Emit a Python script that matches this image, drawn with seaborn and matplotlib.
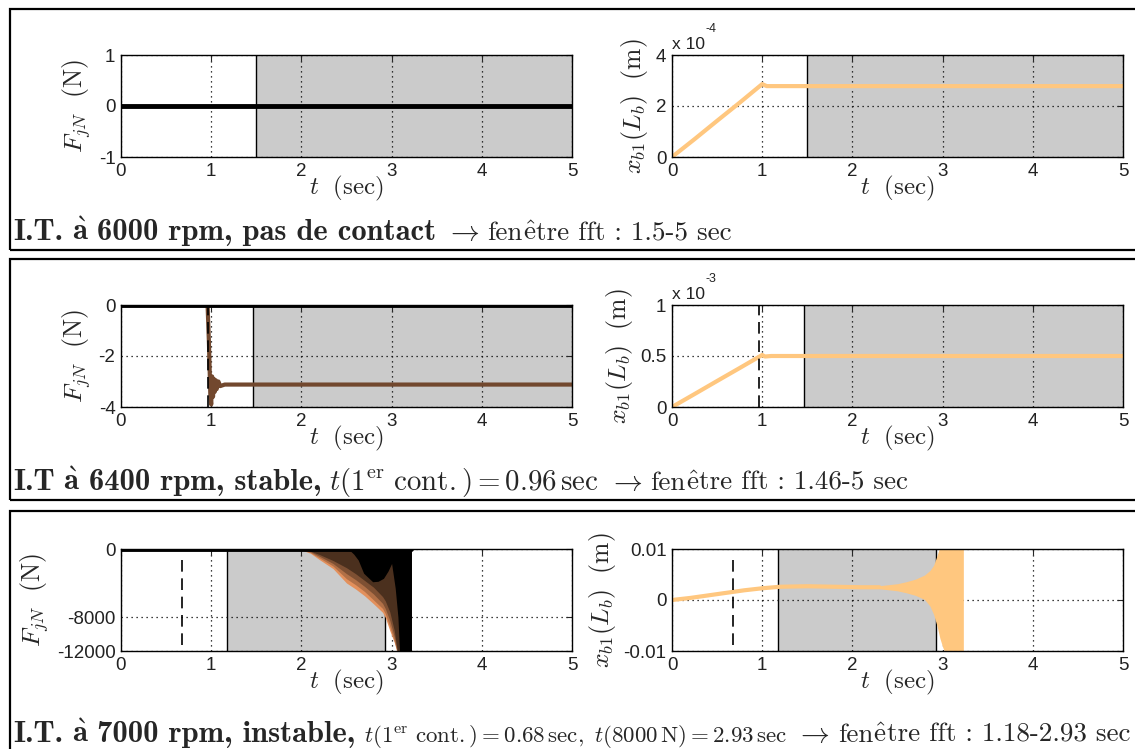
import matplotlib
matplotlib.use("Agg")
import matplotlib.pyplot as plt
import seaborn as sns
from matplotlib.patches import Rectangle
from matplotlib.ticker import FixedLocator, FixedFormatter
from matplotlib import cm

W, H = 1135, 749

# ---- data ----------------------------------------------------------------
# I.T. 6000 rpm (no contact)
t_f1 = [0.0, 5.0]
f1 = [0.0, 0.0]
t_x1 = [0.0, 0.25, 0.5, 0.75, 1.0, 1.05, 1.5, 5.0]
x1 = [0.0, 0.7e-4, 1.42e-4, 2.13e-4, 2.86e-4, 2.78e-4, 2.78e-4, 2.78e-4]
fft1 = (1.5, 5.0)

# I.T 6400 rpm (stable)
t_f2 = [0.0, 0.96, 0.975, 0.99, 1.0, 1.01, 1.02, 1.03, 1.04, 1.05, 1.06, 1.08, 1.1, 1.15, 5.0]
f2 = [0.0, 0.0, -1.5, -3.5, -3.9, -2.8, -3.6, -2.9, -3.4, -2.95, -3.3, -3.0, -3.18, -3.12, -3.12]
t_x2 = [0.0, 0.25, 0.5, 0.75, 1.0, 1.03, 1.1, 5.0]
x2 = [0.0, 1.27e-4, 2.55e-4, 3.82e-4, 5.1e-4, 4.95e-4, 5.0e-4, 5.0e-4]
fft2 = (1.46, 5.0)
contact2 = 0.96

# I.T. 7000 rpm (unstable) - contact force envelopes, lightest to darkest
t_f3 = [1.97, 2.1, 2.2, 2.35, 2.5, 2.6, 2.7, 2.8, 2.9, 2.93, 2.98, 3.03, 3.07, 3.22]
f3_a = [0, -500, -1250, -2300, -4000, -4700, -5500, -6450, -7450, -8050, -9600, -11000, -12500, -12500]
f3_b = [0, -420, -1050, -2000, -3500, -4200, -5000, -6000, -7000, -7600, -9100, -10800, -12500, -12500]
f3_c = [0, -330, -850, -1700, -2900, -3600, -4400, -5300, -6400, -7000, -8400, -10300, -12500, -12500]
f3_d = [0, -250, -650, -1350, -2200, -2900, -3700, -4500, -5600, -6100, -7400, -9600, -12500, -12500]
t_f3_blk = [2.52, 2.58, 2.63, 2.69, 2.79, 2.85, 2.91, 2.96, 3.0, 3.04, 3.07, 3.09, 3.22]
f3_blk = [0, -600, -1300, -2850, -3850, -3800, -3450, -2600, -1700, -4600, -8000, -12500, -12500]
t_x3 = [0.0, 0.2, 0.4, 0.6, 0.8, 1.0, 1.2, 1.5, 1.8, 2.1, 2.3]
x3 = [0.0, 0.0004, 0.0009, 0.0014, 0.0019, 0.0023, 0.0026, 0.0027, 0.0026, 0.0025, 0.0025]
t_x3_env = [2.3, 2.5, 2.6, 2.7, 2.8, 2.86, 2.9, 2.94, 2.97, 3.0, 3.03, 3.23]
x3_up = [0.0028, 0.0032, 0.0036, 0.0041, 0.0049, 0.0058, 0.0068, 0.0088, 0.0105, 0.0105, 0.0105, 0.0105]
x3_lo = [0.0022, 0.0018, 0.0014, 0.0009, 0.0001, -0.0012, -0.0028, -0.0052, -0.0075, -0.0092, -0.0105, -0.0105]
fft3 = (1.18, 2.93)
contact3 = 0.68

x_ticks = [0, 1, 2, 3, 4, 5]

sns.set_style("white")
plt.rcParams.update({
    "font.family": ["Liberation Sans", "DejaVu Sans"],
    "mathtext.fontset": "cm",
    "axes.unicode_minus": False,
    "axes.linewidth": 1.0,
    "axes.edgecolor": "black",
})

GREY = "#cbcbcb"
ORANGE = cm.copper(1.0)
REG = dict(family=["cmr10", "DejaVu Serif"])
BOLD = dict(family=["cmb10", "DejaVu Serif"])
MATH = dict()
CAP_B = 22.0   # bold part
CAP_R = 19.5   # roman part
CAP_M = 20.8   # math part
SP = 8.5       # word space in px at caption size


def make_ax(fig, x0, y0, x1, y1):
    return fig.add_axes([x0 / W, 1 - y1 / H, (x1 - x0) / W, (y1 - y0) / H])


def style_ax(ax, yticks, ylabels, ylim, ylabel):
    ax.set_xlim(0, 5)
    ax.set_ylim(*ylim)
    ax.xaxis.set_major_locator(FixedLocator(x_ticks))
    ax.yaxis.set_major_locator(FixedLocator(yticks))
    ax.yaxis.set_major_formatter(FixedFormatter(ylabels))
    ax.set_axisbelow("line")
    ax.grid(True, linestyle=(0, (1, 3)), color="black", linewidth=0.9)
    ax.tick_params(direction="in", top=True, right=True, length=4, width=0.8,
                   labelsize=13.5, labelcolor="#222222", pad=4)
    ax.set_xlabel(r"$t\ \ (\mathrm{sec})$", fontsize=18, labelpad=-4)
    ax.set_ylabel(ylabel, fontsize=18.5, labelpad=4)
    for sp in ax.spines.values():
        sp.set_visible(True)
        sp.set_linewidth(1.0)


def fft_span(ax, lo, hi):
    ax.axvspan(lo, hi, facecolor=GREY, edgecolor="none", zorder=1)
    ax.axvline(lo, color="black", lw=1.0, zorder=1.2)
    if hi < 5:
        ax.axvline(hi, color="black", lw=1.0, zorder=1.2)


def offset_label(ax, expo):
    ax.text(0.0, 1.06, "x 10", transform=ax.transAxes, fontsize=12.5, color="#222222")
    ax.text(0.075, 1.23, expo, transform=ax.transAxes, fontsize=9, color="#222222")


def write_caption(fig, x_px, y_px, runs):
    r = fig.canvas.get_renderer()
    x = x_px
    for s, kw, size, gap in runs:
        txt = fig.text(x / W, 1 - y_px / H, s, fontsize=size, va="baseline", ha="left", **kw)
        bb = txt.get_window_extent(renderer=r)
        x += bb.width + gap


fig = plt.figure(figsize=(W / 100, H / 100), dpi=100)
fig.patch.set_facecolor("white")

# frames around each row
for top, bot in [(9, 250), (259, 500), (511, 780)]:
    fig.patches.append(Rectangle((10 / W, 1 - bot / H), 1.2, (bot - top) / H,
                                 transform=fig.transFigure, fill=False,
                                 edgecolor="black", linewidth=1.6))

fy_label = r"$F_{jN}\ \ (\mathrm{N})$"
xb_label = r"$x_{b1}(L_b)\ \ (\mathrm{m})$"

# ---- row 1 ----
ax = make_ax(fig, 121, 55, 572, 157)
fft_span(ax, *fft1)
sns.lineplot(x=t_f1, y=f1, ax=ax, color="black", linewidth=3.5, estimator=None)
style_ax(ax, [-1, 0, 1], ["-1", "0", "1"], (-1, 1), fy_label)

ax = make_ax(fig, 672, 55, 1123, 157)
fft_span(ax, *fft1)
sns.lineplot(x=t_x1, y=x1, ax=ax, color=ORANGE, linewidth=3, estimator=None)
style_ax(ax, [0, 2e-4, 4e-4], ["0", "2", "4"], (0, 4e-4), xb_label)
offset_label(ax, "-4")

# ---- row 2 ----
ax = make_ax(fig, 121, 305, 572, 407)
fft_span(ax, *fft2)
sns.lineplot(x=t_f2, y=f2, ax=ax, color=cm.copper(0.36), linewidth=3, estimator=None)
sns.lineplot(x=[0, 5], y=[0, 0], ax=ax, color="black", linewidth=3.5, estimator=None)
ax.axvline(contact2, color="black", lw=1.2, ls=(0, (7, 4)), zorder=3)
style_ax(ax, [-4, -2, 0], ["-4", "-2", "0"], (-4, 0), fy_label)

ax = make_ax(fig, 672, 305, 1123, 407)
fft_span(ax, *fft2)
sns.lineplot(x=t_x2, y=x2, ax=ax, color=ORANGE, linewidth=3, estimator=None)
ax.axvline(contact2, color="black", lw=1.2, ls=(0, (7, 4)), zorder=3)
style_ax(ax, [0, 0.5e-3, 1e-3], ["0", "0.5", "1"], (0, 1e-3), xb_label)
offset_label(ax, "-3")

# ---- row 3 ----
ax = make_ax(fig, 121, 549, 572, 651)
fft_span(ax, *fft3)
for vals, c in [(f3_a, 0.72), (f3_b, 0.56), (f3_c, 0.4), (f3_d, 0.24)]:
    ax.fill_between(t_f3, 0, vals, color=cm.copper(c), linewidth=0, zorder=2)
ax.fill_between(t_f3_blk, 0, f3_blk, color="black", linewidth=0, zorder=2.1)
sns.lineplot(x=[0, 3.22], y=[0, 0], ax=ax, color="black", linewidth=3.5, estimator=None)
ax.axvline(contact3, ymin=0.06, ymax=0.94, color="black", lw=1.2, ls=(0, (7, 4)), zorder=3)
style_ax(ax, [-12000, -8000, 0], ["-12000", "-8000", "0"], (-12000, 0), fy_label)

ax = make_ax(fig, 672, 549, 1123, 651)
fft_span(ax, *fft3)
sns.lineplot(x=t_x3, y=x3, ax=ax, color=ORANGE, linewidth=3, estimator=None)
ax.fill_between(t_x3_env, x3_lo, x3_up, color=ORANGE, linewidth=0, zorder=2)
ax.axvline(contact3, ymin=0.06, ymax=0.94, color="black", lw=1.2, ls=(0, (7, 4)), zorder=3)
style_ax(ax, [-0.01, 0, 0.01], ["-0.01", "0", "0.01"], (-0.01, 0.01), xb_label)

# ---- captions ----
arrow = (r"$\rightarrow$", MATH, CAP_M, SP)
a_grave = (r"$\mathbf{\grave{a}}$", MATH, CAP_B, SP)
e_hat = (r"$\mathrm{\hat{e}}$", MATH, CAP_R, 0)
write_caption(fig, 13, 240, [
    ("I.T.", BOLD, CAP_B, SP), a_grave,
    ("6000 rpm, pas de contact", BOLD, CAP_B, SP),
    arrow,
    ("fen", REG, CAP_R, 0), e_hat, ("tre fft : 1.5-5 sec", REG, CAP_R, 0),
])
write_caption(fig, 13, 490, [
    ("I.T", BOLD, CAP_B, SP), a_grave,
    ("6400 rpm, stable,", BOLD, CAP_B, SP),
    (r"$t(1^{\mathrm{er}}\ \mathrm{cont.}) = 0.96\,\mathrm{sec}$", MATH, CAP_M, SP),
    arrow,
    ("fen", REG, CAP_R, 0), e_hat, ("tre fft : 1.46-5 sec", REG, CAP_R, 0),
])
write_caption(fig, 13, 742, [
    ("I.T.", BOLD, CAP_B, SP), a_grave,
    ("7000 rpm, instable,", BOLD, CAP_B, SP),
    (r"$t(1^{\mathrm{er}}\ \mathrm{cont.}) = 0.68\,\mathrm{sec},\ t(8000\,\mathrm{N}) = 2.93\,\mathrm{sec}$",
     MATH, 16.5, SP),
    arrow,
    ("fen", REG, CAP_R, 0), e_hat, ("tre fft : 1.18-2.93 sec", REG, CAP_R, 0),
])

fig.savefig("out.png", dpi=100, facecolor="white")
